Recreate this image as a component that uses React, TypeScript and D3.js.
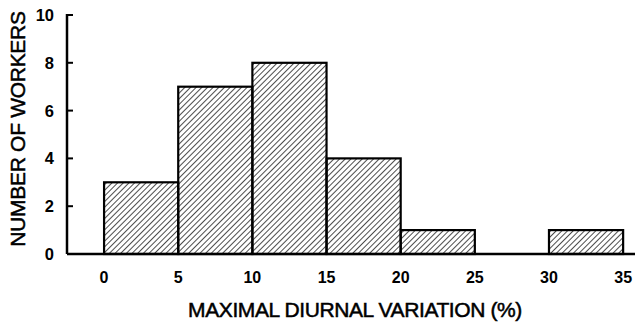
import React from 'react';
import * as d3 from 'd3';

// histogram bins (% variation) and counts
const binStarts = [0, 5, 10, 15, 20, 30];
const binWidth = 5;
const counts = [3, 7, 8, 4, 1, 1];
const xTicks = [0, 5, 10, 15, 20, 25, 30, 35];
const yTicks = [0, 2, 4, 6, 8, 10];

const W = 640, H = 325;
const margin = { top: 15, right: 5, bottom: 71, left: 67 };

export default function App() {
    const x = d3.scaleLinear().domain([-2.5, 35.8]).range([margin.left, margin.left + 568]);
    const y = d3.scaleLinear().domain([0, 10]).range([H - margin.bottom, margin.top]);
    const font = 'Liberation Sans, Arial, sans-serif';

    return (
        <svg width={W} height={H} style={{ position: 'absolute', left: 0, top: 0, background: '#fff' }}>
            <defs>
                <pattern id="hatch" patternUnits="userSpaceOnUse" width="4" height="4" patternTransform="rotate(45)">
                    <line x1="0" y1="0" x2="0" y2="4" stroke="#000" strokeWidth="1.4" />
                </pattern>
            </defs>
            {/* bars */}
            {binStarts.map((b, i) => (
                <rect key={i}
                    x={x(b)} y={y(counts[i])}
                    width={x(b + binWidth) - x(b)} height={y(0) - y(counts[i])}
                    fill="url(#hatch)" stroke="#000" strokeWidth={2.2} />
            ))}
            {/* axes */}
            <line x1={margin.left} x2={margin.left} y1={y(10) - 1} y2={y(0)} stroke="#000" strokeWidth={2.5} />
            <line x1={margin.left} x2={x(35.8)} y1={y(0)} y2={y(0)} stroke="#000" strokeWidth={2.5} />
            {yTicks.map(t => (
                <g key={t}>
                    <line x1={margin.left} x2={margin.left + 6} y1={y(t)} y2={y(t)} stroke="#000" strokeWidth={2} />
                    <text x={margin.left - 13} y={y(t)} dy="0.36em" textAnchor="end"
                        fontFamily={font} fontWeight="bold" fontSize={16.5}>{t}</text>
                </g>
            ))}
            {xTicks.map(t => (
                <text key={t} x={x(t)} y={283} textAnchor="middle"
                    fontFamily={font} fontWeight="bold" fontSize={16}>{t}</text>
            ))}
            <text x={355} y={317} textAnchor="middle" fontFamily={font} fontSize={21}
                letterSpacing={-0.4} stroke="#000" strokeWidth={0.5}>MAXIMAL DIURNAL VARIATION (%)</text>
            <text transform={`translate(25,${129}) rotate(-90)`} textAnchor="middle"
                fontFamily={font} fontSize={21} letterSpacing={-0.3}
                stroke="#000" strokeWidth={0.5}>NUMBER OF WORKERS</text>
        </svg>
    );
}
